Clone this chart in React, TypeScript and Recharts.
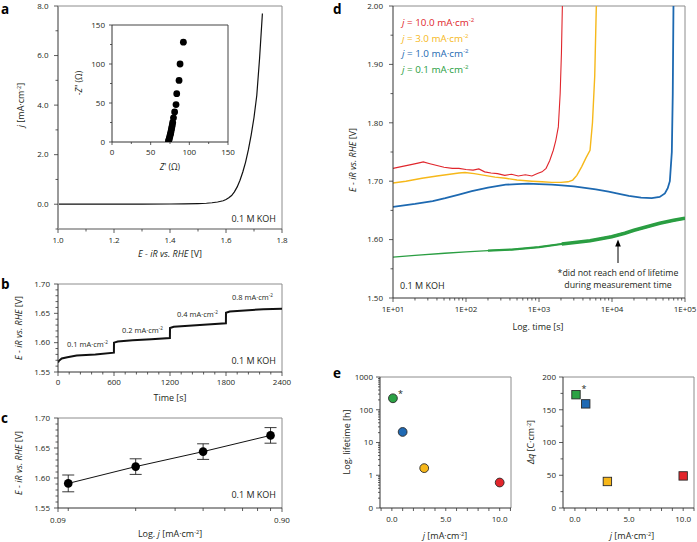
import React from 'react';
import { ComposedChart, ScatterChart, Line, Scatter, XAxis, YAxis, ReferenceLine, ErrorBar, Cell } from 'recharts';

const F = '"Open Sans", "Noto Sans", sans-serif';
const W = 697;
const H = 542;
const TICK = '#333';
const TXT = '#231f20';
const FRAME = '#8c8c8c';

// ---------- Panel a: LSV ----------
const lsvPotential = [1.0, 1.1, 1.2, 1.3, 1.4, 1.45, 1.5, 1.53, 1.55, 1.57, 1.59, 1.6, 1.61, 1.62, 1.63, 1.64, 1.65, 1.66, 1.67, 1.68, 1.69, 1.7, 1.71, 1.72, 1.73];
const lsvCurrent = [0, 0, 0, 0.004, 0.008, 0.012, 0.025, 0.04, 0.06, 0.09, 0.14, 0.19, 0.26, 0.35, 0.5, 0.7, 0.97, 1.3, 1.7, 2.2, 2.8, 3.5, 4.4, 5.9, 7.7];
const aXTicks = [1.0, 1.1, 1.2, 1.3, 1.4, 1.5, 1.6, 1.7, 1.8];
const aXMajor = [1.0, 1.2, 1.4, 1.6, 1.8];
const aYTicks = [-1, 0, 1, 2, 3, 4, 5, 6, 7, 8];
const aYMajor = [0, 2, 4, 6, 8];

// inset: Nyquist
const zReal = [73, 73.5, 74, 74.5, 75, 75.5, 76, 76.5, 77, 77.5, 78, 78.5, 79.5, 81, 82.8, 83.7, 86.7, 88, 92.3];
const zImag = [1, 2.5, 4, 6, 8, 10, 12, 14.5, 17, 19.5, 22, 25, 31, 38.5, 48, 62, 79, 100, 128];
const insetTicks = [0, 25, 50, 75, 100, 125, 150];
const insetMajor = [0, 50, 100, 150];

// ---------- Panel b: steps ----------
const stepTime = [0, 10, 40, 100, 200, 400, 599, 600, 640, 800, 1000, 1199, 1200, 1240, 1400, 1600, 1799, 1800, 1840, 2000, 2200, 2400];
const stepPotential = [1.566, 1.569, 1.573, 1.575, 1.578, 1.580, 1.583, 1.600, 1.602, 1.604, 1.606, 1.608, 1.625, 1.627, 1.629, 1.631, 1.633, 1.651, 1.653, 1.655, 1.657, 1.658];
const stepLabels = ['0.1', '0.2', '0.4', '0.8'];
const bXTicks = [0, 120, 240, 360, 480, 600, 720, 840, 960, 1080, 1200, 1320, 1440, 1560, 1680, 1800, 1920, 2040, 2160, 2280, 2400];
const bXMajor = [0, 600, 1200, 1800, 2400];
const eYTicks = [1.55, 1.56, 1.57, 1.58, 1.59, 1.6, 1.61, 1.62, 1.63, 1.64, 1.65, 1.66, 1.67, 1.68, 1.69, 1.7];
const eYMajor = [1.55, 1.6, 1.65, 1.7];

// ---------- Panel c: Tafel ----------
const tafelCurrent = [0.1, 0.2, 0.4, 0.8];
const tafelPotential = [1.591, 1.619, 1.644, 1.671];
const tafelError = [0.014, 0.013, 0.013, 0.013];
const cXTicks = [0.09, 0.1, 0.2, 0.3, 0.4, 0.5, 0.6, 0.7, 0.8, 0.9];
const cXMajor = [0.09, 0.9];

// ---------- Panel d: lifetime ----------
const redTime = [10, 13, 17, 22, 26, 32, 40, 50, 65, 80, 100, 125, 150, 180, 220, 270, 340, 420, 520, 650, 800, 950, 1100, 1250, 1400, 1570, 1700, 1840, 1950, 2030, 2090];
const redPotential = [1.722, 1.725, 1.728, 1.731, 1.733, 1.73, 1.727, 1.724, 1.722, 1.722, 1.72, 1.719, 1.721, 1.716, 1.714, 1.713, 1.71, 1.712, 1.709, 1.711, 1.709, 1.713, 1.716, 1.722, 1.735, 1.753, 1.77, 1.793, 1.85, 1.92, 2.0];
const yellowTime = [10, 15, 25, 40, 60, 80, 97, 130, 180, 250, 350, 500, 800, 1100, 1500, 2000, 2500, 2900, 3300, 3850, 4400, 5000, 5400, 5800, 6100];
const yellowPotential = [1.697, 1.7, 1.705, 1.709, 1.712, 1.714, 1.715, 1.713, 1.71, 1.707, 1.705, 1.702, 1.7, 1.699, 1.698, 1.698, 1.699, 1.702, 1.71, 1.725, 1.74, 1.753, 1.8, 1.88, 2.0];
const blueTime = [10, 20, 35, 52, 80, 120, 200, 350, 500, 714, 1000, 1500, 2047, 3000, 4500, 6000, 9000, 13000, 17000, 25000, 35000, 45000, 53000, 58000, 62000, 66000, 68000, 69500];
const bluePotential = [1.656, 1.661, 1.666, 1.671, 1.677, 1.683, 1.689, 1.694, 1.695, 1.696, 1.695, 1.694, 1.693, 1.691, 1.688, 1.686, 1.682, 1.678, 1.675, 1.672, 1.671, 1.673, 1.679, 1.688, 1.7, 1.75, 1.85, 2.0];
const greenTime = [10, 20, 51, 100, 200, 423, 1000, 2047, 5000, 9900, 15000, 20000, 28300, 45000, 70000, 100000];
const greenPotential = [1.57, 1.573, 1.5766, 1.579, 1.581, 1.583, 1.587, 1.5925, 1.598, 1.605, 1.611, 1.616, 1.621, 1.628, 1.633, 1.6365];
const dLegend = ['10.0', '3.0', '1.0', '0.1'];
const dXMajor = [10, 100, 1000, 10000, 100000];
const dXLabels = ['1E+01', '1E+02', '1E+03', '1E+04', '1E+05'];
const dYTicks = [1.5, 1.55, 1.6, 1.65, 1.7, 1.75, 1.8, 1.85, 1.9, 1.95, 2.0];
const dYMajor = [1.5, 1.6, 1.7, 1.8, 1.9, 2.0];

// ---------- Panel e ----------
const jValues = [0.1, 1.0, 3.0, 10.0];
const lifetimes = [224, 21, 1.65, 0.6];
const chargeDensity = [173, 159, 40.5, 49];
const notes = ['*', '', '', ''];
const eXTicks = [-1, 0, 1, 2, 3, 4, 5, 6, 7, 8, 9, 10, 11];
const eXMajor = [0, 5, 10];
const eLifeMajor = [0.1, 1, 10, 100, 1000];
const eLifeLabels = ['0', '1', '10', '100', '1000'];
const eQTicks = [0, 25, 50, 75, 100, 125, 150, 175, 200];
const eQMajor = [0, 50, 100, 150, 200];

// series colours (style)
const SERIES_COLORS = ['#2ca244', '#1f69b3', '#f7b719', '#e2252b'];
const D_RED = '#e0262c';
const D_YELLOW = '#f6b81a';
const D_BLUE = '#1d69b1';
const D_GREEN = '#2a9e42';

const logMinor = (majors: number[]) => {
  const out: number[] = [];
  majors.forEach((mj, i) => {
    out.push(mj);
    if (i < majors.length - 1) for (let k = 2; k <= 9; k++) out.push(mj * k);
  });
  return out;
};

type TickCfg = { side: 'left' | 'bottom'; majors: number[]; fmt: (v: number) => string; major?: number; minor?: number; gap?: number; fs?: number };

function makeTick(c: TickCfg) {
  return (p: any) => {
    const v = Number(p.payload?.value);
    const isMaj = c.majors.some((mj) => Math.abs(mj - v) <= 1e-9 + Math.abs(mj) * 1e-7);
    const len = isMaj ? c.major ?? 4 : c.minor ?? 2.5;
    const fs = c.fs ?? 8;
    if (c.side === 'bottom') {
      return (
        <g>
          <line x1={p.x} x2={p.x} y1={p.y} y2={p.y + len} stroke={TICK} strokeWidth={0.8} />
          {isMaj && (
            <text x={p.x} y={p.y + (c.gap ?? 14)} textAnchor="middle" fontSize={fs} fontFamily={F} fill={TXT}>
              {c.fmt(v)}
            </text>
          )}
        </g>
      );
    }
    return (
      <g>
        <line x1={p.x - len} x2={p.x} y1={p.y} y2={p.y} stroke={TICK} strokeWidth={0.8} />
        {isMaj && (
          <text x={p.x - (c.gap ?? 9)} y={p.y + fs * 0.35} textAnchor="end" fontSize={fs} fontFamily={F} fill={TXT}>
            {c.fmt(v)}
          </text>
        )}
      </g>
    );
  };
}

// plot area exactly [L,R] x [T,B]; axes get 1px width/height
const m = (L: number, T: number, R: number, B: number) => ({ left: L - 1, top: T, right: W - R, bottom: H - B - 1 });
const layer: React.CSSProperties = { position: 'absolute', left: 0, top: 0 };
const axisDark = { stroke: '#333', strokeWidth: 1 };

const Unit = ({ fs }: { fs: number }) => (
  <>
    <tspan>mA·cm</tspan>
    <tspan fontSize={fs * 0.62} dy={-fs * 0.38}>-2</tspan>
  </>
);

const UnitBr = ({ fs, pre }: { fs: number; pre: string }) => (
  <>
    <tspan>{pre}</tspan>
    <tspan fontSize={fs * 0.62} dy={-fs * 0.38}>-2</tspan>
    <tspan dy={fs * 0.38}>]</tspan>
  </>
);

const CircleShape = (p: any) => (
  <g>
    <circle cx={p.cx} cy={p.cy} r={4.4} fill={p.fill} stroke="#2a2a2a" strokeWidth={0.9} />
    {p.payload?.note ? (
      <text x={p.cx + 5} y={p.cy - 1} fontSize={9} fontFamily={F} fill={TXT}>
        {p.payload.note}
      </text>
    ) : null}
  </g>
);

const SquareShape = (p: any) => (
  <g>
    <rect x={p.cx - 4.2} y={p.cy - 4.2} width={8.4} height={8.4} fill={p.fill} stroke="#2a2a2a" strokeWidth={0.9} />
    {p.payload?.note ? (
      <text x={p.cx + 5.5} y={p.cy - 3} fontSize={9} fontFamily={F} fill={TXT}>
        {p.payload.note}
      </text>
    ) : null}
  </g>
);

const DotShape = (p: any) => <circle cx={p.cx} cy={p.cy} r={3.4} fill="#000" />;

const axX = { type: 'number' as const, allowDataOverflow: true, interval: 0 as const, height: 1, tickSize: 0, tickMargin: 0, tickLine: false };
const axY = { type: 'number' as const, allowDataOverflow: true, interval: 0 as const, width: 1, tickSize: 0, tickMargin: 0, tickLine: false };

export default function App() {
  const lsvData = lsvPotential.map((x, i) => ({ x, y: lsvCurrent[i] }));
  const insetData = zReal.map((x, i) => ({ x, y: zImag[i] }));
  const stepData = stepTime.map((x, i) => ({ x, y: stepPotential[i] }));
  const tafelData = tafelCurrent.map((x, i) => ({ x, y: tafelPotential[i], err: tafelError[i] }));
  const mk = (ts: number[], vs: number[]) => ts.map((t, i) => ({ t, v: vs[i] }));
  const redData = mk(redTime, redPotential);
  const yellowData = mk(yellowTime, yellowPotential);
  const blueData = mk(blueTime, bluePotential);
  const greenData = mk(greenTime, greenPotential);
  const greenMid = greenData.filter((d) => d.t >= 200);
  const greenThick = greenData.filter((d) => d.t >= 2047);
  const lifeData = jValues.map((x, i) => ({ x, y: lifetimes[i], note: notes[i] }));
  const qData = jValues.map((x, i) => ({ x, y: chargeDensity[i], note: notes[i] }));
  const dXTicks = logMinor(dXMajor);
  const eLifeTicks = logMinor(eLifeMajor);

  const titleE = (x: number, y: number) => (
    <text transform={`translate(${x},${y}) rotate(-90)`} textAnchor="middle" fontSize={9} fontFamily={F} fill={TXT}>
      <tspan fontStyle="italic">E - iR vs. RHE</tspan>
      <tspan> [V]</tspan>
    </text>
  );

  return (
    <div style={{ position: 'absolute', left: 0, top: 0, width: W, height: H, background: '#fff', overflow: 'hidden' }}>
      {/* Panel a */}
      <div style={layer}>
        <ComposedChart width={W} height={H} margin={m(58, 6, 282, 229)} data={lsvData}>
          <XAxis {...axX} dataKey="x" domain={[1.0, 1.8]} ticks={aXTicks} axisLine={{ stroke: '#555', strokeWidth: 1.2 }} tick={makeTick({ side: 'bottom', majors: aXMajor, fmt: (v) => v.toFixed(1), gap: 13.5 })} />
          <YAxis {...axY} domain={[-1, 8]} ticks={aYTicks} axisLine={{ stroke: '#9a9a9a', strokeWidth: 2 }} tick={makeTick({ side: 'left', majors: aYMajor, fmt: (v) => v.toFixed(1), gap: 9.5 })} />
          <ReferenceLine y={8} stroke={FRAME} strokeWidth={1} />
          <ReferenceLine x={1.8} stroke={FRAME} strokeWidth={1} />
          <Line dataKey="y" stroke="#111" strokeWidth={1.2} dot={false} activeDot={false} isAnimationActive={false} />
        </ComposedChart>
      </div>
      {/* Inset */}
      <div style={layer}>
        <ScatterChart width={W} height={H} margin={m(112, 25, 228, 142)}>
          <XAxis {...axX} dataKey="x" domain={[0, 150]} ticks={insetTicks} axisLine={axisDark} tick={makeTick({ side: 'bottom', majors: insetMajor, fmt: (v) => String(v), gap: 12.5, major: 3, minor: 2 })} />
          <YAxis {...axY} dataKey="y" domain={[0, 150]} ticks={insetTicks} axisLine={axisDark} tick={makeTick({ side: 'left', majors: insetMajor, fmt: (v) => String(v), gap: 7, major: 3, minor: 2 })} />
          <ReferenceLine y={150} stroke="#444" strokeWidth={1} />
          <ReferenceLine x={150} stroke="#444" strokeWidth={1} />
          <Scatter data={insetData} shape={DotShape} isAnimationActive={false} />
        </ScatterChart>
      </div>
      {/* Panel b */}
      <div style={layer}>
        <ComposedChart width={W} height={H} margin={m(58, 284, 282, 372)} data={stepData}>
          <XAxis {...axX} dataKey="x" domain={[0, 2400]} ticks={bXTicks} axisLine={axisDark} tick={makeTick({ side: 'bottom', majors: bXMajor, fmt: (v) => String(v), gap: 12.5 })} />
          <YAxis {...axY} domain={[1.55, 1.7]} ticks={eYTicks} axisLine={axisDark} tick={makeTick({ side: 'left', majors: eYMajor, fmt: (v) => v.toFixed(2), gap: 8 })} />
          <ReferenceLine y={1.7} stroke={FRAME} strokeWidth={1} />
          <ReferenceLine x={2400} stroke={FRAME} strokeWidth={1} />
          <Line dataKey="y" stroke="#111" strokeWidth={2} dot={false} activeDot={false} isAnimationActive={false} />
        </ComposedChart>
      </div>
      {/* Panel c */}
      <div style={layer}>
        <ComposedChart width={W} height={H} margin={m(58, 418, 282, 508)} data={tafelData}>
          <XAxis {...axX} dataKey="x" scale="log" domain={[0.09, 0.9]} ticks={cXTicks} axisLine={axisDark} tick={makeTick({ side: 'bottom', majors: cXMajor, fmt: (v) => v.toFixed(2), gap: 14.5, minor: 3 })} />
          <YAxis {...axY} domain={[1.55, 1.7]} ticks={eYTicks} axisLine={axisDark} tick={makeTick({ side: 'left', majors: eYMajor, fmt: (v) => v.toFixed(2), gap: 8 })} />
          <ReferenceLine y={1.7} stroke={FRAME} strokeWidth={1} />
          <ReferenceLine x={0.9} stroke={FRAME} strokeWidth={1} />
          <Line dataKey="y" stroke="#111" strokeWidth={1} dot={{ r: 4.3, fill: '#000', stroke: '#000', strokeWidth: 0 }} activeDot={false} isAnimationActive={false}>
            <ErrorBar dataKey="err" width={6} stroke="#222" strokeWidth={0.9} direction="y" />
          </Line>
        </ComposedChart>
      </div>
      {/* Panel d */}
      <div style={layer}>
        <ComposedChart width={W} height={H} margin={m(393, 6, 685, 298)}>
          <XAxis {...axX} dataKey="t" scale="log" domain={[10, 100000]} ticks={dXTicks} axisLine={axisDark} tick={makeTick({ side: 'bottom', majors: dXMajor, fmt: (v) => dXLabels[dXMajor.findIndex((q) => Math.abs(q - v) < 1e-6 * q)] ?? '', gap: 14 })} />
          <YAxis {...axY} dataKey="v" domain={[1.5, 2.0]} ticks={dYTicks} axisLine={axisDark} tick={makeTick({ side: 'left', majors: dYMajor, fmt: (v) => v.toFixed(2), gap: 10 })} />
          <ReferenceLine y={2.0} stroke={FRAME} strokeWidth={1} />
          <ReferenceLine x={100000} stroke={FRAME} strokeWidth={1} />
          <Line data={greenData} dataKey="v" stroke={D_GREEN} strokeWidth={1.3} dot={false} activeDot={false} isAnimationActive={false} />
          <Line data={greenMid} dataKey="v" stroke={D_GREEN} strokeWidth={2.2} dot={false} activeDot={false} isAnimationActive={false} />
          <Line data={greenThick} dataKey="v" stroke={D_GREEN} strokeWidth={3.6} dot={false} activeDot={false} isAnimationActive={false} />
          <Line data={blueData} dataKey="v" stroke={D_BLUE} strokeWidth={1.8} dot={false} activeDot={false} isAnimationActive={false} />
          <Line data={yellowData} dataKey="v" stroke={D_YELLOW} strokeWidth={1.4} dot={false} activeDot={false} isAnimationActive={false} />
          <Line data={redData} dataKey="v" stroke={D_RED} strokeWidth={1.1} dot={false} activeDot={false} isAnimationActive={false} />
        </ComposedChart>
      </div>
      {/* Panel e left */}
      <div style={layer}>
        <ScatterChart width={W} height={H} margin={m(380, 377, 511, 508)}>
          <XAxis {...axX} dataKey="x" domain={[-1.1, 11.05]} ticks={eXTicks} axisLine={axisDark} tick={makeTick({ side: 'bottom', majors: eXMajor, fmt: (v) => v.toFixed(1), gap: 14, major: 3, minor: 3 })} />
          <YAxis {...axY} dataKey="y" scale="log" domain={[0.1, 1000]} ticks={eLifeTicks} axisLine={axisDark} tick={makeTick({ side: 'left', majors: eLifeMajor, fmt: (v) => eLifeLabels[eLifeMajor.findIndex((q) => Math.abs(q - v) < 1e-6 * q)] ?? '', gap: 7, major: 4, minor: 2 })} />
          <ReferenceLine y={1000} stroke={FRAME} strokeWidth={1} />
          <ReferenceLine x={11.05} stroke={FRAME} strokeWidth={1} />
          <Scatter data={lifeData} shape={CircleShape} isAnimationActive={false}>
            {lifeData.map((_, i) => (
              <Cell key={i} fill={SERIES_COLORS[i]} />
            ))}
          </Scatter>
        </ScatterChart>
      </div>
      {/* Panel e right */}
      <div style={layer}>
        <ScatterChart width={W} height={H} margin={m(563, 377, 694, 508)}>
          <XAxis {...axX} dataKey="x" domain={[-1.1, 11]} ticks={eXTicks} axisLine={axisDark} tick={makeTick({ side: 'bottom', majors: eXMajor, fmt: (v) => v.toFixed(1), gap: 14, major: 3, minor: 3 })} />
          <YAxis {...axY} dataKey="y" domain={[0, 200]} ticks={eQTicks} axisLine={axisDark} tick={makeTick({ side: 'left', majors: eQMajor, fmt: (v) => String(v), gap: 7, major: 4, minor: 2.5 })} />
          <ReferenceLine y={200} stroke={FRAME} strokeWidth={1} />
          <ReferenceLine x={11} stroke={FRAME} strokeWidth={1} />
          <Scatter data={qData} shape={SquareShape} isAnimationActive={false}>
            {qData.map((_, i) => (
              <Cell key={i} fill={SERIES_COLORS[i]} />
            ))}
          </Scatter>
        </ScatterChart>
      </div>

      {/* Text overlay */}
      <svg width={W} height={H} style={{ position: 'absolute', left: 0, top: 0, pointerEvents: 'none' }} fontFamily={F} fill={TXT}>
        <g fontSize={13.5} fontWeight="bold" fill="#000">
          <text x={1} y={14}>a</text>
          <text x={1} y={289}>b</text>
          <text x={1} y={423}>c</text>
          <text x={333} y={14}>d</text>
          <text x={333} y={378}>e</text>
        </g>

        {/* panel a */}
        <text transform="translate(24,105) rotate(-90)" textAnchor="middle" fontSize={9}>
          <tspan fontStyle="italic">j</tspan>
          <UnitBr fs={9} pre=" [mA·cm" />
        </text>
        <text x={170} y={257} textAnchor="middle" fontSize={9}>
          <tspan fontStyle="italic">E - iR vs. RHE</tspan>
          <tspan> [V]</tspan>
        </text>
        <text x={276} y={222} textAnchor="end" fontSize={9}>0.1 M KOH</text>
        <text transform="translate(82,83) rotate(-90)" textAnchor="middle" fontSize={8.5}>
          <tspan>-</tspan>
          <tspan fontStyle="italic">Z</tspan>
          <tspan>" (Ω)</tspan>
        </text>
        <text x={170} y={170} textAnchor="middle" fontSize={8.5}>
          <tspan fontStyle="italic">Z</tspan>
          <tspan>' (Ω)</tspan>
        </text>

        {/* panel b */}
        {titleE(22, 328)}
        <text x={170} y={401} textAnchor="middle" fontSize={9}>Time [s]</text>
        <text x={276} y={364} textAnchor="end" fontSize={9}>0.1 M KOH</text>
        <g fontSize={7.5}>
          <text x={67} y={347}>{stepLabels[0]} <Unit fs={7.5} /></text>
          <text x={122} y={333}>{stepLabels[1]} <Unit fs={7.5} /></text>
          <text x={177} y={317}>{stepLabels[2]} <Unit fs={7.5} /></text>
          <text x={232} y={300}>{stepLabels[3]} <Unit fs={7.5} /></text>
        </g>

        {/* panel c */}
        {titleE(22, 463)}
        <text x={170} y={537} textAnchor="middle" fontSize={9}>
          <tspan>Log. </tspan>
          <tspan fontStyle="italic">j</tspan>
          <UnitBr fs={9} pre=" [mA·cm" />
        </text>
        <text x={276} y={498} textAnchor="end" fontSize={9}>0.1 M KOH</text>

        {/* panel d */}
        {titleE(356, 160)}
        <text x={538} y={330} textAnchor="middle" fontSize={9}>Log. time [s]</text>
        <text x={400} y={289} fontSize={9}>0.1 M KOH</text>
        {[D_RED, D_YELLOW, D_BLUE, D_GREEN].map((c, i) => (
          <text key={i} x={402} y={26 + i * 15.5} fontSize={9.8} fill={c}>
            <tspan fontStyle="italic">j</tspan>
            <tspan> = {dLegend[i]} </tspan>
            <Unit fs={9.8} />
          </text>
        ))}
        <line x1={618} y1={263} x2={618} y2={245} stroke="#000" strokeWidth={1} />
        <polygon points="615.2,246.5 618,239.5 620.8,246.5" fill="#000" />
        <text x={618} y={276} textAnchor="middle" fontSize={8.8}>*did not reach end of lifetime</text>
        <text x={618} y={287.5} textAnchor="middle" fontSize={8.8}>during measurement time</text>

        {/* panel e */}
        <text transform="translate(350,442) rotate(-90)" textAnchor="middle" fontSize={9}>Log. lifetime [h]</text>
        <text x={445} y={539} textAnchor="middle" fontSize={9}>
          <tspan fontStyle="italic">j</tspan>
          <UnitBr fs={9} pre=" [mA·cm" />
        </text>
        <text transform="translate(534,442) rotate(-90)" textAnchor="middle" fontSize={9}>
          <tspan fontStyle="italic">Δq</tspan>
          <UnitBr fs={9} pre=" [C·cm" />
        </text>
        <text x={632} y={539} textAnchor="middle" fontSize={9}>
          <tspan fontStyle="italic">j</tspan>
          <UnitBr fs={9} pre=" [mA·cm" />
        </text>
      </svg>
    </div>
  );
}
